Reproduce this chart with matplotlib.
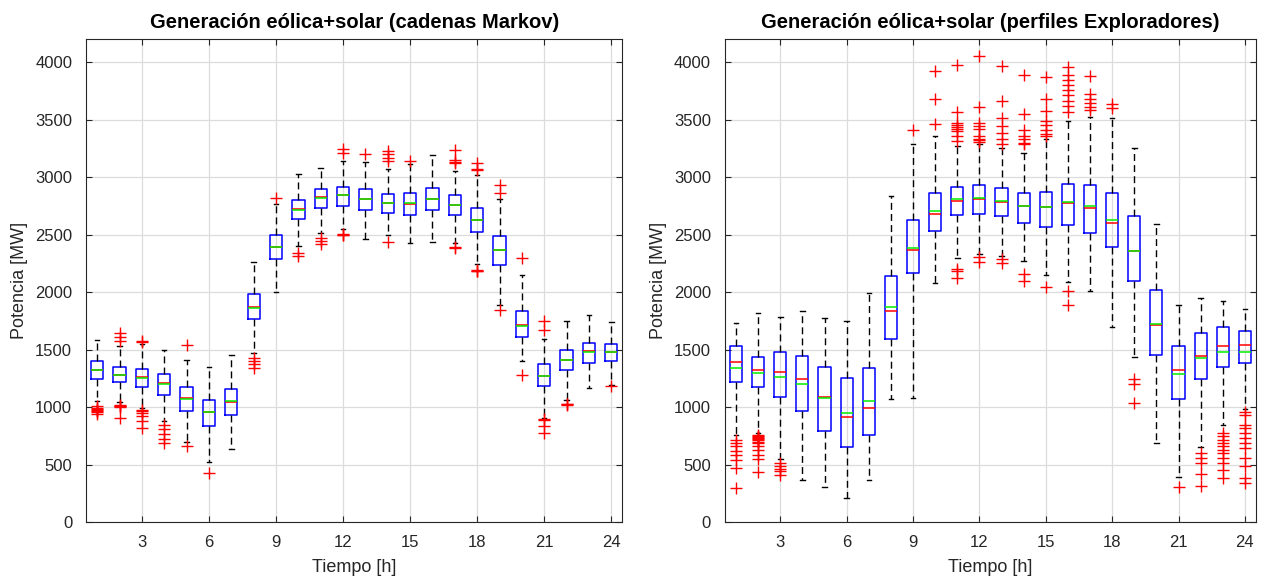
import matplotlib.pyplot as plt

plt.rcParams['font.family'] = ['Liberation Sans', 'DejaVu Sans']

hours = list(range(1, 25))

# Markov chain scenarios: box statistics per hour (MW)
q1_markov = [1244, 1218, 1177, 1108, 962, 837, 933, 1767, 2291, 2631, 2733, 2747,
             2709, 2689, 2674, 2709, 2666, 2521, 2237, 1608, 1179, 1318, 1382, 1402]
med_markov = [1323, 1282, 1262, 1209, 1078, 953, 1044, 1869, 2390, 2718, 2825, 2843,
              2805, 2776, 2765, 2811, 2753, 2626, 2368, 1715, 1272, 1411, 1483, 1477]
q3_markov = [1398, 1346, 1331, 1288, 1171, 1061, 1160, 1985, 2494, 2797, 2898, 2916,
             2892, 2855, 2858, 2907, 2846, 2730, 2484, 1831, 1376, 1498, 1556, 1550]
mean_markov = [1323, 1282, 1256, 1203, 1072, 953, 1050, 1862, 2390, 2712, 2818, 2843,
               2805, 2776, 2770, 2811, 2755, 2626, 2368, 1708, 1272, 1405, 1478, 1477]
lo_markov = [1049, 1044, 991, 875, 700, 523, 637, 1471, 2000, 2398, 2515, 2544,
             2462, 2494, 2427, 2433, 2426, 2243, 1884, 1396, 903, 1063, 1164, 1193]
hi_markov = [1581, 1529, 1544, 1494, 1410, 1349, 1450, 2265, 2762, 3023, 3076, 3140,
             3134, 3067, 3110, 3189, 3055, 3020, 2809, 2150, 1591, 1744, 1802, 1736]
out_markov = [
    [1010, 995, 985, 975, 965, 955, 940],
    [1645, 1610, 1575, 1020, 1010, 1005, 997, 904],
    [1573, 1565, 977, 965, 948, 919, 875, 817],
    [845, 805, 765, 725, 690],
    [1538, 660],
    [430],
    [],
    [1430, 1400, 1370, 1340],
    [2820],
    [2340, 2315],
    [2470, 2440, 2415],
    [3241, 3212, 2505, 2500, 2495],
    [3198],
    [3227, 3198, 3169, 3140, 2436],
    [3140],
    [],
    [3238, 3150, 3130, 3122, 2392, 2385],
    [3122, 3070, 3060, 2190, 2185, 2180],
    [2933, 2861, 1846],
    [2295, 1280],
    [1744, 1672, 895, 885, 835, 775],
    [1030, 1025, 1020],
    [],
    [1179],
]

# Explorer profiles: box statistics per hour (MW)
q1_expl = [1222, 1175, 1088, 965, 790, 653, 761, 1592, 2162, 2532, 2671, 2682,
           2662, 2604, 2569, 2581, 2510, 2389, 2092, 1452, 1071, 1244, 1351, 1385]
med_expl = [1394, 1321, 1306, 1248, 1091, 913, 994, 1834, 2364, 2676, 2792, 2812,
            2783, 2749, 2736, 2770, 2727, 2603, 2360, 1711, 1322, 1443, 1530, 1538]
q3_expl = [1534, 1437, 1475, 1446, 1350, 1251, 1338, 2140, 2624, 2864, 2916, 2928,
           2902, 2864, 2873, 2942, 2929, 2860, 2658, 2014, 1535, 1648, 1697, 1662]
mean_expl = [1338, 1295, 1260, 1198, 1076, 948, 1053, 1869, 2387, 2705, 2806, 2818,
             2790, 2752, 2742, 2780, 2744, 2626, 2360, 1726, 1287, 1423, 1481, 1481]
lo_expl = [755, 776, 548, 365, 309, 213, 365, 1070, 1080, 2075, 2295, 2330,
           2315, 2272, 2147, 2084, 2008, 1697, 1431, 687, 390, 650, 840, 981]
hi_expl = [1732, 1819, 1781, 1834, 1776, 1746, 1994, 2837, 3283, 3356, 3269, 3283,
           3254, 3211, 3332, 3486, 3520, 3514, 3255, 2591, 1884, 1951, 1919, 1850]
out_expl = [
    [717, 688, 659, 621, 586, 543, 470, 295],
    [761, 750, 740, 730, 720, 710, 700, 688, 659, 630, 586, 551, 432],
    [513, 490, 465, 440, 410],
    [],
    [],
    [],
    [],
    [],
    [3405],
    [3925, 3682, 3457],
    [3971, 3566, 3471, 3450, 3434, 3420, 3399, 3356, 3312, 2200, 2180, 2121],
    [4049, 3610, 3471, 3442, 3420, 3356, 3330, 3318, 3306, 2306, 2257],
    [3962, 3659, 3509, 3442, 3384, 3327, 3289, 2286, 2249],
    [3890, 3552, 3405, 3356, 3327, 3298, 3283, 2156, 2093],
    [3867, 3682, 3572, 3486, 3451, 3413, 3376, 3356, 2046],
    [3954, 3890, 3847, 3803, 3760, 3711, 3665, 3616, 3566, 2012, 1887],
    [3878, 3720, 3680, 3640, 3610, 3580],
    [3635, 3600],
    [1241, 1200, 1033],
    [],
    [303],
    [601, 557, 514, 419, 312],
    [774, 745, 716, 687, 658, 629, 601, 557, 514, 456, 384],
    [961, 932, 846, 817, 774, 730, 687, 644, 557, 485, 384, 341],
]

titles = ['Generación eólica+solar (cadenas Markov)',
          'Generación eólica+solar (perfiles Exploradores)']


def make_stats(q1, med, q3, mean, lo, hi, out):
    return [dict(q1=a, med=b, q3=c, mean=d, whislo=e, whishi=f, fliers=g)
            for a, b, c, d, e, f, g in zip(q1, med, q3, mean, lo, hi, out)]


fig = plt.figure(figsize=(12.67, 5.82), dpi=100)
ax1 = fig.add_axes([0.0679, 0.103, 0.4234, 0.830])
ax2 = fig.add_axes([0.5722, 0.103, 0.4191, 0.830])

groups = [
    make_stats(q1_markov, med_markov, q3_markov, mean_markov, lo_markov, hi_markov, out_markov),
    make_stats(q1_expl, med_expl, q3_expl, mean_expl, lo_expl, hi_expl, out_expl),
]

for ax, stats, title in zip([ax1, ax2], groups, titles):
    ax.bxp(stats, positions=hours, widths=0.55, capwidths=0.2,
           showmeans=True, meanline=True,
           boxprops=dict(color='#0000ff', linewidth=1.1),
           medianprops=dict(color='#ff0000', linewidth=1.1),
           meanprops=dict(color='#00ee00', linestyle='-', linewidth=1.1),
           whiskerprops=dict(color='black', linestyle=(0, (5, 3)), linewidth=1.0),
           capprops=dict(color='black', linewidth=1.0),
           flierprops=dict(marker='+', markeredgecolor='#ff0000', markersize=8,
                           markeredgewidth=1.0, linestyle='none'))
    ax.set_xlim(0.5, 24.5)
    ax.set_ylim(0, 4200)
    ax.set_xticks(range(3, 25, 3))
    ax.set_xticklabels([str(h) for h in range(3, 25, 3)])
    ax.set_yticks(range(0, 4001, 500))
    ax.grid(True, color='#dcdcdc', linewidth=0.9)
    ax.set_axisbelow(True)
    ax.tick_params(direction='in', top=True, right=True, labelsize=12,
                   colors='#262626', length=4)
    ax.tick_params(axis='y', pad=10)
    ax.tick_params(axis='x', pad=9)
    for sp in ax.spines.values():
        sp.set_color('#262626')
    ax.set_title(title, fontsize=14.5, fontweight='bold', pad=8)
    ax.set_xlabel('Tiempo [h]', fontsize=13, color='#262626', labelpad=7)
    ax.set_ylabel('Potencia [MW]', fontsize=13, color='#262626', labelpad=5)

fig.savefig('out.png', dpi=100)
